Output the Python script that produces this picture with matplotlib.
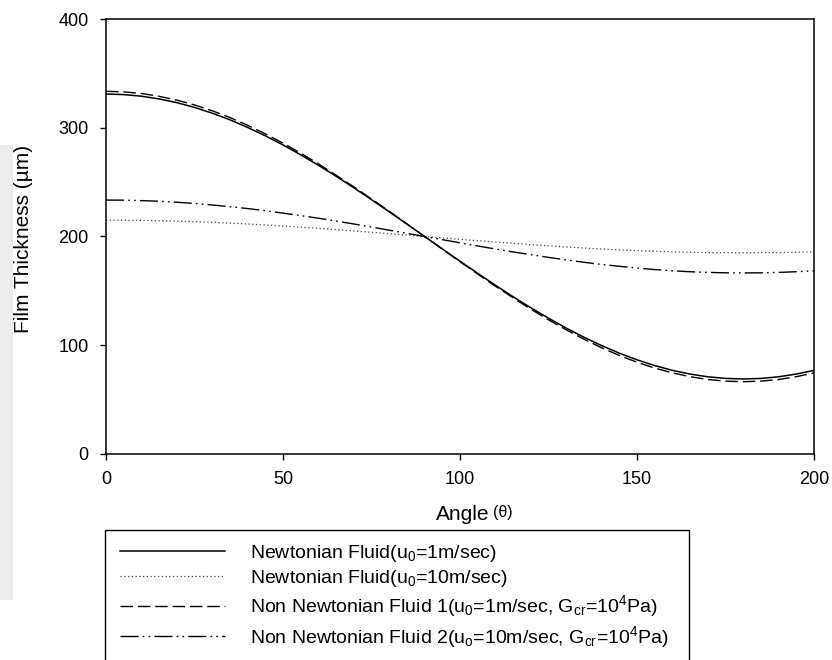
import numpy as np
import matplotlib
matplotlib.use("Agg")
from matplotlib import pyplot as plt
from matplotlib.patches import Rectangle

plt.rcParams['font.family'] = ['Liberation Sans', 'DejaVu Sans']
plt.rcParams['mathtext.default'] = 'regular'

# angle (deg) and film thickness (um)
angle = [0, 5, 10, 15, 20, 25, 30, 35, 40, 45, 50, 55, 60, 65, 70, 75, 80, 85, 90, 95, 100,
         105, 110, 115, 120, 125, 130, 135, 140, 145, 150, 155, 160, 165, 170, 175, 180,
         185, 190, 195, 200]
newt_1 = [331.0, 330.5, 329.0, 326.5, 323.1, 318.7, 313.4, 307.3, 300.3, 292.6, 284.2,
          275.1, 265.5, 255.4, 244.8, 233.9, 222.7, 211.4, 200.0, 188.6, 177.3,
          166.1, 155.2, 144.6, 134.5, 124.9, 115.8, 107.4, 99.7, 92.7, 86.6,
          81.3, 76.9, 73.5, 71.0, 69.5, 69.0, 69.5, 71.0, 73.5, 76.9]
newt_10 = [215.0, 214.9, 214.8, 214.5, 214.1, 213.6, 213.0, 212.3, 211.5, 210.6, 209.6,
           208.6, 207.5, 206.3, 205.1, 203.9, 202.6, 201.3, 200.0, 198.7, 197.4,
           196.1, 194.9, 193.7, 192.5, 191.4, 190.4, 189.4, 188.5, 187.7, 187.0,
           186.4, 185.9, 185.5, 185.2, 185.1, 185.0, 185.1, 185.2, 185.5, 185.9]
nonnewt_1 = [333.5, 333.0, 331.5, 328.9, 325.4, 321.0, 315.6, 309.4, 302.3, 294.4, 285.8,
             276.6, 266.8, 256.4, 245.7, 234.5, 223.2, 211.6, 200.0, 188.4, 176.8,
             165.5, 154.3, 143.6, 133.2, 123.4, 114.2, 105.6, 97.7, 90.6, 84.4,
             79.0, 74.6, 71.1, 68.5, 67.0, 66.5, 67.0, 68.5, 71.1, 74.6]
nonnewt_2 = [233.5, 233.4, 233.0, 232.4, 231.5, 230.4, 229.0, 227.4, 225.7, 223.7, 221.5,
             219.2, 216.8, 214.2, 211.5, 208.7, 205.8, 202.9, 200.0, 197.1, 194.2,
             191.3, 188.5, 185.8, 183.3, 180.8, 178.5, 176.3, 174.3, 172.6, 171.0,
             169.6, 168.5, 167.6, 167.0, 166.6, 166.5, 166.6, 167.0, 167.6, 168.5]

labels = [r'Newtonian Fluid(u$_0$=1m/sec)',
          r'Newtonian Fluid(u$_0$=10m/sec)',
          r'Non Newtonian Fluid 1(u$_0$=1m/sec, G$_{cr}$=10$^4$Pa)',
          r'Non Newtonian Fluid 2(u$_o$=10m/sec, G$_{cr}$=10$^4$Pa)']

W, H = 832, 660
fig = plt.figure(figsize=(W / 100, H / 100), dpi=100)

# faint grey strip at the left edge of the scan
fig.patches.append(Rectangle((0, 1 - 600 / H), 13 / W, 455 / H, transform=fig.transFigure,
                             facecolor='#ececec', edgecolor='none', zorder=0))

ax = fig.add_axes([106 / W, 1 - 454 / H, 708 / W, 435 / H])

l1, = ax.plot(angle, newt_1, color='black', lw=1.1, ls='-')
l2, = ax.plot(angle, newt_10, color='#444444', lw=0.9, ls=(0, (1, 2)))
l3, = ax.plot(angle, nonnewt_1, color='black', lw=1.0, ls=(0, (9, 3.5)))
l4, = ax.plot(angle, nonnewt_2, color='black', lw=1.0, ls=(0, (13, 3, 1.2, 3, 1.2, 3)))

ax.set_xlim(0, 200)
ax.set_ylim(0, 400)
ax.set_xticks([0, 50, 100, 150, 200])
ax.set_yticks([0, 100, 200, 300, 400])
ax.tick_params(direction='out', length=4.5, width=1.0, labelsize=13,
               top=False, right=False)
ax.tick_params(axis='x', pad=8)
ax.tick_params(axis='y', pad=8)
for s in ax.spines.values():
    s.set_linewidth(1.1)

fig.text(24 / W, 1 - 239 / H, 'Film Thickness (\u00b5m)', rotation=90,
         ha='center', va='center', fontsize=15)
fig.text(489 / W, 1 - 514 / H, 'Angle', ha='right', va='center', fontsize=15)
fig.text(493 / W, 1 - 513 / H, '(\u03b8)', ha='left', va='center', fontsize=11.5)

# legend box runs off the bottom of the image
fig.patches.append(Rectangle((105 / W, -0.05), (689 - 105) / W, 0.05 + 1 - 530 / H,
                             transform=fig.transFigure, facecolor='none',
                             edgecolor='black', lw=1.0))
fig.legend([l1, l2, l3, l4], labels, loc='upper left',
           bbox_to_anchor=(120 / W, 1 - 543 / H), frameon=False, fontsize=14,
           handlelength=5.4, handletextpad=1.3, labelspacing=0.22, borderpad=0,
           borderaxespad=0)

fig.savefig('out.png', dpi=100)
